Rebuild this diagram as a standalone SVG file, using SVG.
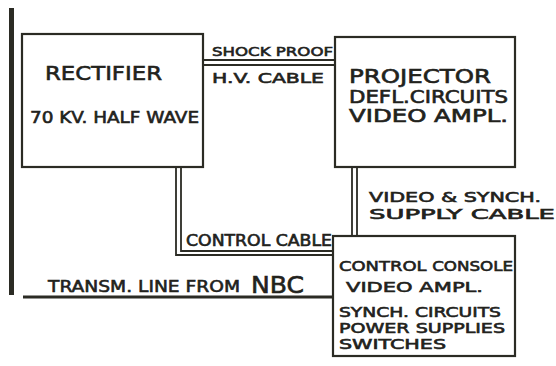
<svg xmlns="http://www.w3.org/2000/svg" width="556" height="366" viewBox="0 0 556 366">
<style>
.box{fill:#fff;stroke:#2b2b24;stroke-width:2.2}
.ln{fill:none;stroke:#2b2b24;stroke-width:1.8}
.t{font-family:"DejaVu Sans","Liberation Sans",sans-serif;fill:#22221c;stroke:#22221c;stroke-width:0.6}
</style>
<rect width="556" height="366" fill="#fff"/>
<rect x="9" y="8" width="5" height="287" fill="#2b2b24"/>
<g id="connectors">
<path class="ln" d="M203 60H335M203 65H335"/>
<path class="ln" d="M176 167V255H333M181 167V251H333"/>
<path class="ln" d="M352 167V236M357 167V236"/>
<path d="M23 297H333" fill="none" stroke="#2b2b24" stroke-width="2.8"/>
</g>
<g id="rectifier">
<rect class="box" x="22" y="34" width="181" height="133"/>
<text class="t" x="45" y="80" font-size="20" textLength="117" lengthAdjust="spacingAndGlyphs">RECTIFIER</text>
<text class="t" x="30" y="123" font-size="16" textLength="169" lengthAdjust="spacingAndGlyphs">70 KV. HALF WAVE</text>
</g>
<g id="projector">
<rect class="box" x="335" y="37" width="180" height="130"/>
<text class="t" x="349" y="83" font-size="19" textLength="142" lengthAdjust="spacingAndGlyphs">PROJECTOR</text>
<text class="t" x="349" y="103" font-size="17" textLength="159" lengthAdjust="spacingAndGlyphs">DEFL.CIRCUITS</text>
<text class="t" x="349" y="122" font-size="17" textLength="159" lengthAdjust="spacingAndGlyphs">VIDEO AMPL.</text>
</g>
<g id="console">
<rect class="box" x="333" y="236" width="182" height="120"/>
<text class="t" x="339" y="271" font-size="14.5" textLength="174" lengthAdjust="spacingAndGlyphs">CONTROL <tspan font-size="13.5">CONSOLE</tspan></text>
<text class="t" x="346" y="292" font-size="14.5" textLength="137" lengthAdjust="spacingAndGlyphs">VIDEO AMPL.</text>
<text class="t" x="339" y="317" font-size="14" textLength="162" lengthAdjust="spacingAndGlyphs">SYNCH. CIRCUITS</text>
<text class="t" x="339" y="333" font-size="13.5" textLength="166" lengthAdjust="spacingAndGlyphs">POWER SUPPLIES</text>
<text class="t" x="339" y="349" font-size="13.5" textLength="107" lengthAdjust="spacingAndGlyphs">SWITCHES</text>
</g>
<g id="labels">
<text class="t" x="212" y="56" font-size="13" textLength="121" lengthAdjust="spacingAndGlyphs">SHOCK PROOF</text>
<text class="t" x="212" y="83" font-size="14" textLength="112" lengthAdjust="spacingAndGlyphs">H.V. CABLE</text>
<text class="t" x="186" y="246" font-size="15" textLength="146" lengthAdjust="spacingAndGlyphs">CONTROL CABLE</text>
<text class="t" x="369" y="202" font-size="14" textLength="172" lengthAdjust="spacingAndGlyphs">VIDEO &amp; SYNCH.</text>
<text class="t" x="369" y="219" font-size="14" textLength="186" lengthAdjust="spacingAndGlyphs">SUPPLY CABLE</text>
<text class="t" x="48" y="292" font-size="16" textLength="192" lengthAdjust="spacingAndGlyphs">TRANSM. LINE FROM</text>
<text class="t" x="251" y="293" font-size="23" textLength="53" lengthAdjust="spacingAndGlyphs">NBC</text>
</g>
</svg>
